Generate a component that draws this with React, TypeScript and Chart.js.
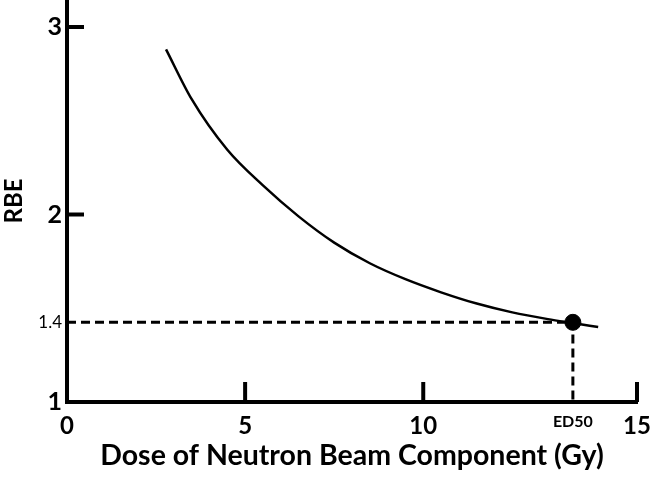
import React, { useEffect, useRef } from "react";
import { Chart, registerables } from "chart.js";

Chart.register(...registerables);

// Curve: RBE vs dose of neutron beam component (Gy)
const DOSE = [2.78, 3.5, 4.5, 5.5, 6.5, 7.5, 8.5, 9.5, 10.5, 11.5, 12.5, 13.5, 14.2, 14.91];
const RBE = [2.881, 2.615, 2.345, 2.155, 1.99, 1.85, 1.74, 1.655, 1.585, 1.525, 1.478, 1.442, 1.421, 1.4];

// ED50 marker
const ED50_DOSE = 14.2;
const ED50_RBE = 1.425;

// Axis ticks (schematic axis, positions as drawn)
const X_TICKS = [0, 5, 10, ED50_DOSE, 16];
const X_TICK_LABELS = ["0", "5", "10", "ED50", "15"];
const X_INNER_TICKS = [5, 10, 16];
const Y_TICKS = [1, ED50_RBE, 2, 3];
const Y_TICK_LABELS = ["1", "1.4", "2", "3"];
const Y_INNER_TICKS = [2, 3];

const FONT = "Lato, 'Open Sans', sans-serif";

const innerTicks = {
  id: "innerTicks",
  afterDraw(chart: any) {
    const { ctx, scales } = chart;
    const xs = scales.x;
    const ys = scales.y;
    ctx.save();
    ctx.strokeStyle = "#000";
    ctx.lineWidth = 4;
    ctx.lineCap = "butt";
    const x0 = xs.getPixelForValue(0);
    const y0 = ys.getPixelForValue(1);
    Y_INNER_TICKS.forEach((v) => {
      const py = ys.getPixelForValue(v);
      ctx.beginPath();
      ctx.moveTo(x0, py);
      ctx.lineTo(x0 + 17, py);
      ctx.stroke();
    });
    X_INNER_TICKS.forEach((v) => {
      const px = xs.getPixelForValue(v);
      ctx.beginPath();
      ctx.moveTo(px, y0);
      ctx.lineTo(px, y0 - 20);
      ctx.stroke();
    });
    ctx.restore();
  },
};

export default function App() {
  const ref = useRef<HTMLCanvasElement | null>(null);

  useEffect(() => {
    const canvas = ref.current;
    if (!canvas) return;
    const chart = new Chart(canvas, {
      type: "scatter",
      data: {
        datasets: [
          {
            label: "guide",
            data: [
              { x: 0, y: ED50_RBE },
              { x: ED50_DOSE, y: ED50_RBE },
              { x: ED50_DOSE, y: 1 },
            ],
            showLine: true,
            borderColor: "#000",
            borderWidth: 3,
            borderDash: [9, 5],
            pointRadius: 0,
            tension: 0,
          },
          {
            label: "RBE",
            data: DOSE.map((d, i) => ({ x: d, y: RBE[i] })),
            showLine: true,
            borderColor: "#000",
            borderWidth: 2.5,
            pointRadius: 0,
            cubicInterpolationMode: "monotone",
          },
          {
            label: "ED50",
            data: [{ x: ED50_DOSE, y: ED50_RBE }],
            pointRadius: 8,
            pointBackgroundColor: "#000",
            pointBorderColor: "#000",
            showLine: false,
          },
        ],
      },
      options: {
        animation: false,
        responsive: false,
        maintainAspectRatio: false,
        layout: { autoPadding: false, padding: { top: 0, right: 19, bottom: 0, left: 0 } },
        plugins: { legend: { display: false }, tooltip: { enabled: false } },
        scales: {
          x: {
            type: "linear",
            min: 0,
            max: 16,
            afterBuildTicks: (s: any) => {
              s.ticks = X_TICKS.map((v) => ({ value: v }));
            },
            afterFit: (s: any) => {
              s.height = 76;
              s.paddingLeft = 0;
              s.paddingRight = 0;
            },
            grid: { display: false, drawTicks: false },
            border: { display: true, color: "#000", width: 4 },
            ticks: {
              color: "#000",
              padding: 10,
              maxRotation: 0,
              autoSkip: false,
              font: (c: any) =>
                c.tick && c.tick.value === ED50_DOSE
                  ? { family: FONT, size: 16, weight: "bold" }
                  : { family: FONT, size: 24, weight: "bold" },
              callback: (v: any) => X_TICK_LABELS[X_TICKS.indexOf(Number(v))] ?? "",
            },
            title: {
              display: true,
              text: "Dose of Neutron Beam Component (Gy)",
              color: "#000",
              font: { family: FONT, size: 28.5, weight: "bold" },
              padding: { top: 0, bottom: 5 },
            },
          },
          y: {
            type: "linear",
            min: 1,
            max: 3.144,
            afterBuildTicks: (s: any) => {
              s.ticks = Y_TICKS.map((v) => ({ value: v }));
            },
            afterFit: (s: any) => {
              s.width = 67;
              s.paddingTop = 0;
              s.paddingBottom = 0;
            },
            grid: { display: false, drawTicks: false },
            border: { display: true, color: "#000", width: 4 },
            ticks: {
              color: "#000",
              padding: 5,
              autoSkip: false,
              font: (c: any) =>
                c.tick && c.tick.value === ED50_RBE
                  ? { family: FONT, size: 17, weight: "normal" }
                  : { family: FONT, size: 25, weight: "bold" },
              callback: (v: any) => Y_TICK_LABELS[Y_TICKS.indexOf(Number(v))] ?? "",
            },
            title: {
              display: true,
              text: "RBE",
              color: "#000",
              font: { family: FONT, size: 24, weight: "bold" },
              padding: { top: 0, bottom: 0 },
            },
          },
        },
      },
      plugins: [innerTicks],
    });
    return () => chart.destroy();
  }, []);

  return (
    <div style={{ position: "fixed", left: 0, top: 0, width: 656, height: 478, background: "#fff" }}>
      <canvas ref={ref} width={656} height={478} style={{ width: 656, height: 478 }} />
    </div>
  );
}
